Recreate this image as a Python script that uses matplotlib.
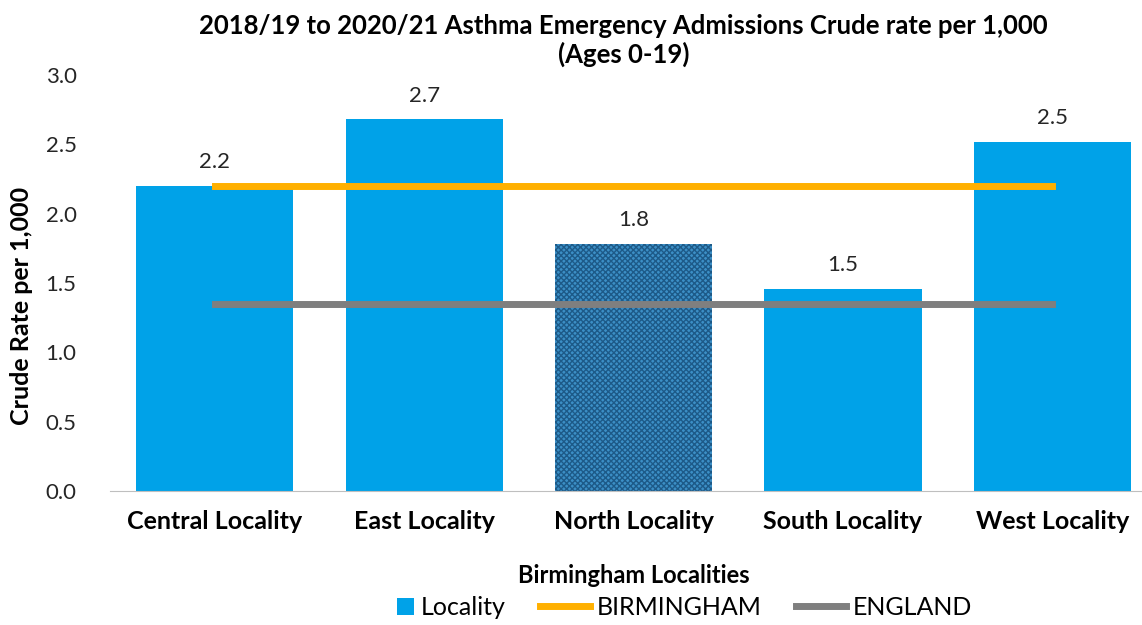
import matplotlib.pyplot as plt
import matplotlib.patches as mpatches
from matplotlib.legend_handler import HandlerPatch
import numpy as np

# dane
lokalizacje = ["Central Locality", "East Locality", "North Locality", "South Locality", "West Locality"]
wartosci = [2.2, 2.68, 1.78, 1.46, 2.52]
etykiety = ["2.2", "2.7", "1.8", "1.5", "2.5"]
birmingham = [2.2, 2.2, 2.2, 2.2, 2.2]
england = [1.35, 1.35, 1.35, 1.35, 1.35]

plt.rcParams['font.family'] = ['Lato', 'DejaVu Sans']

fig = plt.figure(figsize=(11.42, 6.25), dpi=100)
ax = fig.add_axes([0.0963, 0.2144, 0.917, 0.6656])

x = np.arange(len(lokalizacje))
slupki = ax.bar(x, wartosci, width=0.75, color='#00a2e8', label="Locality", zorder=2)
# North wyroznione wzorem
slupki[2].set_facecolor('#3c8fc6')
slupki[2].set_edgecolor('#1d5a88')
slupki[2].set_hatch('xxxxxx')
slupki[2].set_linewidth(0)

l_bham, = ax.plot(x, birmingham, color='#ffb000', lw=5, label="BIRMINGHAM", zorder=3)
l_eng, = ax.plot(x, england, color='#7f7f7f', lw=5, label="ENGLAND", zorder=3)

for xi, w, t in zip(x, wartosci, etykiety):
    ax.text(xi, w + 0.1, t, ha='center', va='bottom', fontsize=16, color='#262626')

ax.set_xlim(-0.5, 4.5)
ax.set_ylim(0, 3.0)
yt = np.arange(0, 3.01, 0.5)
ax.set_yticks(yt)
ax.set_yticklabels([f"{v:.1f}" for v in yt], fontsize=16, color='#262626')
ax.set_xticks(x)
ax.set_xticklabels(lokalizacje, fontsize=18, fontweight='bold')
ax.tick_params(axis='both', length=0)
ax.tick_params(axis='x', pad=14)
ax.tick_params(axis='y', pad=24)

for s in ['top', 'right', 'left']:
    ax.spines[s].set_visible(False)
ax.spines['bottom'].set_color('#bfbfbf')

ax.set_xlabel("Birmingham Localities", fontsize=17, fontweight='bold', labelpad=22)
fig.text(0.019, 0.51, "Crude Rate per 1,000", rotation=90, ha='center', va='center',
         fontsize=18, fontweight='bold')

fig.text(0.546, 0.935, "2018/19 to 2020/21 Asthma Emergency Admissions Crude rate per 1,000\n(Ages 0-19)",
         ha='center', va='center', fontsize=18.5, fontweight='bold', linespacing=1.2)


def kwadrat(legend, orig_handle, xdescent, ydescent, width, height, fontsize):
    return mpatches.Rectangle((width - height - xdescent, -ydescent), height, height)


fig.legend([slupki[0], l_bham, l_eng], ["Locality", "BIRMINGHAM", "ENGLAND"],
           loc='center', bbox_to_anchor=(0.585, 0.028), ncol=3, frameon=False,
           fontsize=18, handlelength=2.0, columnspacing=1.4, handletextpad=0.25,
           handler_map={mpatches.Rectangle: HandlerPatch(patch_func=kwadrat)})

plt.savefig("out.png", dpi=100)
